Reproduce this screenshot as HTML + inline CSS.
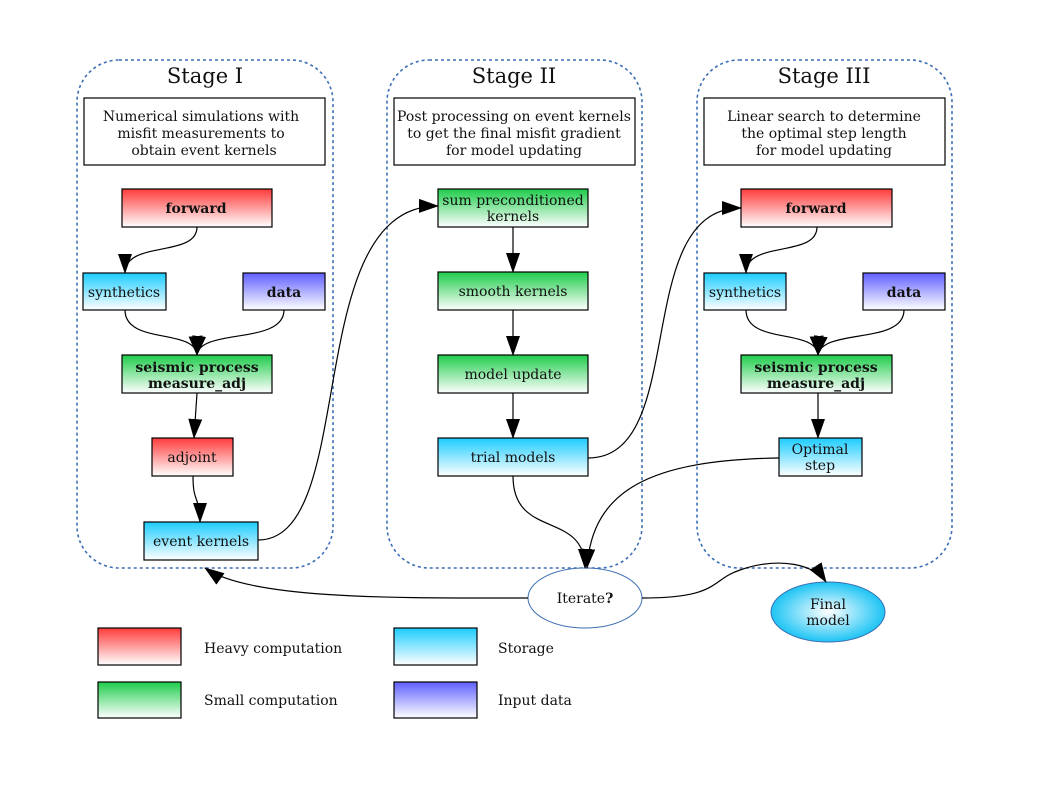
<!DOCTYPE html>
<html><head><meta charset="utf-8"><style>
html,body{margin:0;padding:0;background:#fff;}
svg text{font-family:"DejaVu Serif","Liberation Serif",serif;font-size:14px;fill:#111;}
</style></head><body>
<svg width="1058" height="794" viewBox="0 0 1058 794" xmlns="http://www.w3.org/2000/svg">
<defs>
<linearGradient id="r" x1="0" y1="0" x2="0" y2="1"><stop offset="0" stop-color="#ff3b3b"/><stop offset="1" stop-color="#ffffff"/></linearGradient>
<linearGradient id="g" x1="0" y1="0" x2="0" y2="1"><stop offset="0" stop-color="#1ecc4a"/><stop offset="1" stop-color="#ffffff"/></linearGradient>
<linearGradient id="c" x1="0" y1="0" x2="0" y2="1"><stop offset="0" stop-color="#1cccff"/><stop offset="1" stop-color="#ffffff"/></linearGradient>
<linearGradient id="b" x1="0" y1="0" x2="0" y2="1"><stop offset="0" stop-color="#5f5fff"/><stop offset="1" stop-color="#ffffff"/></linearGradient>
<radialGradient id="rc" cx="0.5" cy="0.5" r="0.5"><stop offset="0" stop-color="#ffffff"/><stop offset="1" stop-color="#1cc4f4"/></radialGradient>
<marker id="a" markerUnits="userSpaceOnUse" markerWidth="20" markerHeight="14" refX="19" refY="7" orient="auto"><path d="M0,0 L20,7 L0,14 z" fill="#000"/></marker>
</defs>
<g fill="none" stroke="#3d6fb5" stroke-width="1.6" stroke-dasharray="3,3">
<rect x="77" y="60" width="256" height="508" rx="42"/>
<rect x="387" y="60" width="255" height="508" rx="42"/>
<rect x="697" y="60" width="255" height="508" rx="42"/>
</g>
<g text-anchor="middle">
<text x="205" y="83" style="font-size:21px">Stage I</text>
<text x="514" y="83" style="font-size:21px">Stage II</text>
<text x="824" y="83" style="font-size:21px">Stage III</text>
</g>
<g stroke="#000" stroke-width="1.2" fill="#fff">
<rect x="84" y="98" width="241" height="67"/>
<rect x="394" y="98" width="241" height="67"/>
<rect x="704" y="98" width="241" height="67"/>
<rect x="122" y="189" width="150" height="38" fill="url(#r)"/>
<rect x="83" y="273" width="83" height="37" fill="url(#c)"/>
<rect x="243" y="273" width="82" height="37" fill="url(#b)"/>
<rect x="122" y="355" width="150" height="38" fill="url(#g)"/>
<rect x="152" y="438" width="81" height="38" fill="url(#r)"/>
<rect x="144" y="522" width="114" height="38" fill="url(#c)"/>
<rect x="438" y="189" width="150" height="38" fill="url(#g)"/>
<rect x="438" y="272" width="150" height="38" fill="url(#g)"/>
<rect x="438" y="355" width="150" height="38" fill="url(#g)"/>
<rect x="438" y="438" width="150" height="38" fill="url(#c)"/>
<rect x="741" y="189" width="151" height="38" fill="url(#r)"/>
<rect x="704" y="273" width="82" height="37" fill="url(#c)"/>
<rect x="863" y="273" width="82" height="37" fill="url(#b)"/>
<rect x="741" y="355" width="151" height="38" fill="url(#g)"/>
<rect x="779" y="438" width="83" height="38" fill="url(#c)"/>
<rect x="98" y="628" width="83" height="37" fill="url(#r)"/>
<rect x="98" y="682" width="83" height="36" fill="url(#g)"/>
<rect x="394" y="628" width="83" height="37" fill="url(#c)"/>
<rect x="394" y="682" width="83" height="36" fill="url(#b)"/>
</g>
<ellipse cx="585" cy="598" rx="57" ry="30" fill="#fff" stroke="#3d6fb5" stroke-width="1"/>
<ellipse cx="828" cy="612" rx="57" ry="30" fill="url(#rc)" stroke="#3d6fb5" stroke-width="1"/>
<g fill="none" stroke="#000" stroke-width="1.2" marker-end="url(#a)">
<path d="M197,227 C197,258 125,240 125,273"/>
<path d="M125,310 C125,345 195,328 197,355"/>
<path d="M284,310 C284,345 200,328 197,355"/>
<path d="M197,393 L194,438"/>
<path d="M193,476 C193,505 200,495 200,522"/>
<path d="M258,540 C360,540 300,205 438,206"/>
<path d="M513,227 L513,272"/>
<path d="M513,310 L513,355"/>
<path d="M513,393 L513,438"/>
<path d="M588,458 C690,458 630,208 741,208"/>
<path d="M817,227 C817,258 746,240 746,273"/>
<path d="M746,310 C746,345 816,328 818,355"/>
<path d="M904,310 C904,345 822,328 818,355"/>
<path d="M818,393 L818,438"/>
<path d="M513,476 C513,540 585,510 585,568"/>
<path d="M779,458 C650,460 592,490 587,568"/>
<path d="M528,598 C400,598 250,600 205,568"/>
<path d="M642,598 C720,598 710,580 740,570 C780,556 815,565 826,582"/>
</g>
<g text-anchor="middle">
<text x="201" y="121">Numerical simulations with</text>
<text x="201" y="138">misfit measurements to</text>
<text x="204" y="155">obtain event kernels</text>
<text x="514" y="121">Post processing on event kernels</text>
<text x="514" y="138">to get the final misfit gradient</text>
<text x="514" y="155">for model updating</text>
<text x="824" y="121">Linear search to determine</text>
<text x="824" y="138">the optimal step length</text>
<text x="824" y="155">for model updating</text>
<text x="196" y="213" font-weight="bold">forward</text>
<text x="124" y="297">synthetics</text>
<text x="284" y="297" font-weight="bold">data</text>
<text x="197" y="372" font-weight="bold">seismic process</text>
<text x="197" y="388" font-weight="bold">measure_adj</text>
<text x="192" y="462">adjoint</text>
<text x="201" y="546">event kernels</text>
<text x="513" y="205">sum preconditioned</text>
<text x="513" y="221">kernels</text>
<text x="513" y="296">smooth kernels</text>
<text x="513" y="379">model update</text>
<text x="513" y="462">trial models</text>
<text x="816" y="213" font-weight="bold">forward</text>
<text x="745" y="297">synthetics</text>
<text x="904" y="297" font-weight="bold">data</text>
<text x="816" y="372" font-weight="bold">seismic process</text>
<text x="816" y="388" font-weight="bold">measure_adj</text>
<text x="820" y="454">Optimal</text>
<text x="820" y="470">step</text>
<text x="585" y="603">Iterate<tspan font-weight="bold">?</tspan></text>
<text x="828" y="609">Final</text>
<text x="828" y="625">model</text>
</g>
<text x="204" y="653">Heavy computation</text>
<text x="204" y="705">Small computation</text>
<text x="498" y="653">Storage</text>
<text x="498" y="705">Input data</text>
</svg>
</body></html>
